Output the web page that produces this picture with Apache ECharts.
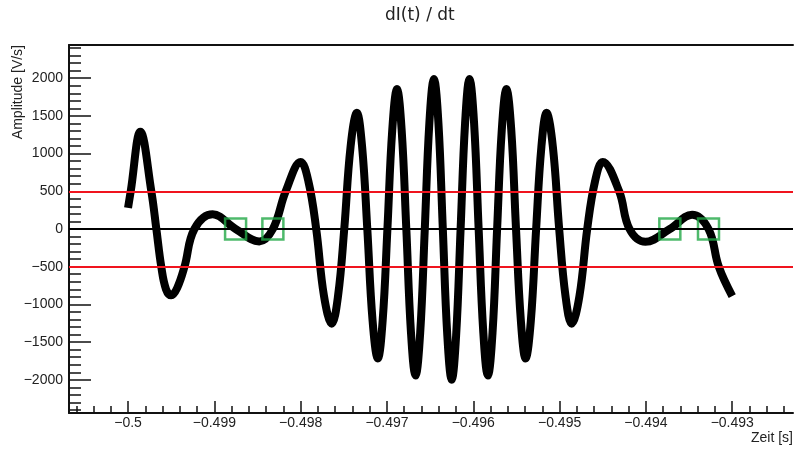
<!DOCTYPE html>
<html>
<head>
<meta charset="utf-8">
<script src="https://cdn.jsdelivr.net/npm/echarts@6/dist/echarts.min.js"></script>
<style>
html,body{margin:0;padding:0;background:#fff;}
#c{width:796px;height:450px;}
</style>
</head>
<body>
<div id="c"></div>
<script>
// ---- data ----
const times = [
  -0.500000, -0.499969, -0.499857, -0.499730, -0.499672, -0.499615, -0.499560, -0.499500,
  -0.499430, -0.499346,
  -0.499231, -0.499020, -0.498754, -0.498480, -0.498322, -0.498173, -0.498000, -0.497910,
  -0.497820, -0.497730, -0.497640, -0.497567, -0.497495, -0.497422, -0.497349, -0.497288,
  -0.497228, -0.497167, -0.497106, -0.497050, -0.496995, -0.496939, -0.496884, -0.496830,
  -0.496776, -0.496722, -0.496669, -0.496615, -0.496562, -0.496509, -0.496456, -0.496404,
  -0.496353, -0.496301, -0.496250, -0.496199, -0.496147, -0.496095, -0.496044, -0.495991,
  -0.495938, -0.495884, -0.495831, -0.495777, -0.495724, -0.495670, -0.495616, -0.495560,
  -0.495505, -0.495449, -0.495394, -0.495333, -0.495272, -0.495211, -0.495151, -0.495078,
  -0.495005, -0.494932, -0.494860, -0.494770, -0.494680, -0.494590, -0.494500, -0.494310,
  -0.494190, -0.494006, -0.493723, -0.493465, -0.493275, -0.493156, -0.493000
];
const amplitude = [
  280, 500, 1290, 500, 0, -500, -800, -880,
  -780, -500,
  0, 195, 0, -165, 0, 500, 890, 630,
  0, -887, -1255, -887, 0, 1089, 1540, 1089,
  0, -1214, -1717, -1214, 0, 1312, 1856, 1312,
  0, -1374, -1943, -1374, 0, 1407, 1990, 1407,
  0, -1414, -2000, -1414, 0, 1407, 1990, 1407,
  0, -1374, -1943, -1374, 0, 1312, 1856, 1312,
  0, -1214, -1717, -1214, 0, 1089, 1540, 1089,
  0, -887, -1255, -887, 0, 630, 890, 500,
  0, -170, 0, 190, 0, -500, -890
];
const zeroCrossings = [-0.498754, -0.498322, -0.493723, -0.493275];
const thresholds = [500, -500];
const xTickValues = [-0.5, -0.499, -0.498, -0.497, -0.496, -0.495, -0.494, -0.493];
const xTickLabels = ['\u22120.5', '\u22120.499', '\u22120.498', '\u22120.497', '\u22120.496', '\u22120.495', '\u22120.494', '\u22120.493'];
const yTickValues = [-2000, -1500, -1000, -500, 0, 500, 1000, 1500, 2000];
const yTickLabels = ['\u22122000', '\u22121500', '\u22121000', '\u2212500', '0', '500', '1000', '1500', '2000'];

// ---- axis extents ----
const X_MIN = -0.500684, X_MAX = -0.492296;
const Y_MIN = -2440, Y_MAX = 2440;

const xMinor = [];
for (let k = -2503; k <= -2462; k++) xMinor.push(+(k * 0.0002).toFixed(4));
const yMinor = [];
for (let k = -24; k <= 24; k++) yMinor.push(k * 100);

const seriesData = times.map((t, i) => [t, amplitude[i]]);
const FONT = 'Liberation Sans, Arial, sans-serif';

function lookup(vals, labels, v) {
  const i = vals.findIndex(x => Math.abs(x - v) < 1e-9);
  return i >= 0 ? labels[i] : '';
}

const chart = echarts.init(document.getElementById('c'), null, {renderer: 'canvas'});
chart.setOption({
  animation: false,
  backgroundColor: '#fff',
  title: {
    text: 'dI(t) / dt',
    left: 380, top: 2,
    textStyle: {fontFamily: 'DejaVu Sans', fontSize: 17, fontWeight: 'normal', color: '#222'}
  },
  grid: {left: 69, right: 0, top: 45, bottom: 37, containLabel: false},
  xAxis: [
    {
      type: 'value', min: X_MIN, max: X_MAX, position: 'bottom',
      name: 'Zeit [s]', nameLocation: 'end', nameGap: 0,
      nameTextStyle: {fontFamily: FONT, fontSize: 14, color: '#222', align: 'right', verticalAlign: 'top', padding: [18, 0, 0, 0]},
      axisLine: {show: true, onZero: false, lineStyle: {color: '#111', width: 2}},
      axisTick: {show: true, inside: true, length: 12, customValues: xTickValues, lineStyle: {color: '#111', width: 1.5}},
      axisLabel: {show: true, customValues: xTickValues, margin: 3, fontFamily: FONT, fontSize: 14, color: '#222',
        formatter: v => lookup(xTickValues, xTickLabels, v)},
      splitLine: {show: false}
    },
    {
      type: 'value', min: X_MIN, max: X_MAX, position: 'bottom',
      axisLine: {show: false, onZero: false},
      axisTick: {show: true, inside: true, length: 7, customValues: xMinor, lineStyle: {color: '#111', width: 1.5}},
      axisLabel: {show: false},
      splitLine: {show: false}
    },
    {
      type: 'value', min: X_MIN, max: X_MAX, position: 'top',
      axisLine: {show: true, onZero: false, lineStyle: {color: '#111', width: 2}},
      axisTick: {show: false}, axisLabel: {show: false}, splitLine: {show: false}
    }
  ],
  yAxis: [
    {
      type: 'value', min: Y_MIN, max: Y_MAX, position: 'left',
      axisLine: {show: true, onZero: false, lineStyle: {color: '#111', width: 2}},
      axisTick: {show: true, inside: true, length: 22, customValues: yTickValues, lineStyle: {color: '#111', width: 1.5}},
      axisLabel: {show: true, customValues: yTickValues, margin: 6, fontFamily: FONT, fontSize: 14, color: '#222',
        formatter: v => lookup(yTickValues, yTickLabels, v)},
      splitLine: {show: false}
    },
    {
      type: 'value', min: Y_MIN, max: Y_MAX, position: 'left',
      axisLine: {show: false, onZero: false},
      axisTick: {show: true, inside: true, length: 12, customValues: yMinor, lineStyle: {color: '#111', width: 1.5}},
      axisLabel: {show: false},
      splitLine: {show: false}
    }
  ],
  graphic: [{
    type: 'text', x: 18.5, y: 45, rotation: Math.PI / 2,
    style: {text: 'Amplitude [V/s]', fontFamily: FONT, fontSize: 14, fill: '#222', align: 'right', verticalAlign: 'middle'}
  }],
  series: [
    {
      name: 'dI/dt', type: 'line', xAxisIndex: 0, yAxisIndex: 0,
      data: seriesData, smooth: 0.4, showSymbol: false, symbol: 'none',
      lineStyle: {color: '#000', width: 8}, z: 2, silent: true
    },
    {
      name: 'Nulldurchgänge', type: 'scatter', xAxisIndex: 0, yAxisIndex: 0,
      data: zeroCrossings.map(t => [t, 0]),
      symbol: 'rect', symbolSize: 21,
      itemStyle: {color: 'rgba(0,0,0,0)', borderColor: '#22a846', borderWidth: 2.5},
      z: 4, silent: true,
      markLine: {
        silent: true, symbol: ['none', 'none'], label: {show: false},
        data: [
          {yAxis: 0, lineStyle: {color: '#000', width: 2, type: 'solid'}},
          ...thresholds.map(v => ({yAxis: v, lineStyle: {color: '#f0141e', width: 2, type: 'solid'}}))
        ]
      }
    }
  ]
});
</script>
</body>
</html>
